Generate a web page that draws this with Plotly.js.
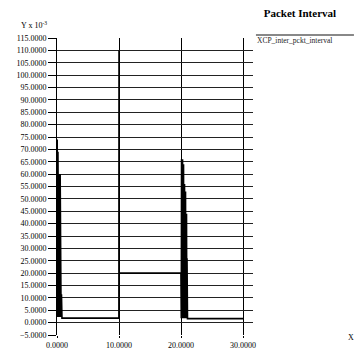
<!DOCTYPE html>
<html>
<head>
<meta charset="utf-8">
<script src="https://cdn.plot.ly/plotly-3.0.1.min.js"></script>
<style>html,body{margin:0;padding:0;background:#fff;}#chart{width:360px;height:353px;}</style>
</head>
<body>
<div id="chart"></div>
<script>
// Series name and labels
var seriesName = "XCP_inter_pckt_interval";
var chartTitle = "Packet Interval";
var yUnitLabel = "Y x 10<sup>-3</sup>";
var xUnitLabel = "X";

// Burst near x = 0 (values in 10^-3)
var burst1X = [0.00, 0.03, 0.06, 0.09, 0.12, 0.15, 0.18, 0.21, 0.24, 0.27, 0.30, 0.33, 0.36, 0.39, 0.42, 0.45, 0.48, 0.51, 0.54, 0.60, 0.66, 0.72, 0.78];
var burst1Y = [2.3, 74.0, 2.3, 69.0, 2.3, 69.0, 2.3, 69.0, 2.3, 60.0, 2.3, 60.0, 2.3, 60.0, 2.3, 60.0, 2.3, 60.0, 2.3, 11.5, 2.3, 11.5, 1.8];
// Flat section 1
var flat1X = [0.80, 3.00, 6.00, 9.98];
var flat1Y = [1.8, 1.8, 1.8, 1.8];
// Spike at x = 10 and the 20 level
var spike2X = [10.00, 10.03, 19.98];
var spike2Y = [110.0, 20.0, 20.0];
// Burst near x = 20
var burst3X = [20.00, 20.04, 20.08, 20.12, 20.16, 20.20, 20.24, 20.28, 20.32, 20.36, 20.40, 20.44, 20.48, 20.52, 20.56, 20.60, 20.64, 20.68, 20.72, 20.76, 20.80, 20.84, 20.88, 20.92, 20.96, 21.00, 21.04];
var burst3Y = [66.0, 1.8, 66.0, 1.8, 66.0, 1.8, 66.0, 1.8, 64.0, 1.8, 64.0, 1.8, 56.0, 1.8, 56.0, 1.8, 53.0, 1.8, 53.0, 1.8, 44.0, 1.8, 44.0, 1.8, 26.0, 1.8, 1.6];
// Flat section 2
var flat2X = [21.10, 24.00, 27.00, 30.00];
var flat2Y = [1.6, 1.6, 1.6, 1.6];

var xTicks = [0, 10, 20, 30];

var xs = burst1X.concat(flat1X, spike2X, burst3X, flat2X);
var ys = burst1Y.concat(flat1Y, spike2Y, burst3Y, flat2Y);

var serif = "Liberation Serif, Times New Roman, serif";

var trace = {
  x: xs, y: ys, type: "scatter", mode: "lines", name: seriesName,
  line: {color: "#000", width: 1.6}, showlegend: false, hoverinfo: "none"
};

var layout = {
  width: 360, height: 353,
  margin: {l: 57, r: 107, t: 38, b: 18, pad: 0},
  paper_bgcolor: "#fff", plot_bgcolor: "#fff",
  font: {family: serif, size: 8, color: "#000"},
  title: {text: "<b>" + chartTitle + "</b>", font: {family: serif, size: 11, color: "#000"},
          xref: "container", yref: "container", x: 0.833, y: 0.963, xanchor: "center", yanchor: "middle"},
  xaxis: {
    range: [0, 31.6], tickvals: xTicks, tickformat: ".4f",
    showgrid: true, gridcolor: "#000", gridwidth: 1, zeroline: false,
    showline: false, ticks: "outside", ticklen: 2, tickcolor: "#000",
    tickfont: {family: serif, size: 8, color: "#000"}
  },
  yaxis: {
    range: [-5, 115], dtick: 5, tick0: 0, tickformat: ".4f",
    showgrid: true, gridcolor: "#222", gridwidth: 1, zeroline: false,
    showline: true, linecolor: "#000", linewidth: 1,
    ticks: "outside", ticklen: 8, tickcolor: "#000",
    tickfont: {family: serif, size: 8, color: "#000"}
  },
  shapes: [
    {type: "line", xref: "paper", yref: "paper", x0: 1.015, x1: 1.515, y0: 1.010, y1: 1.010,
     line: {color: "#888", width: 2}}
  ],
  annotations: [
    {text: seriesName, xref: "paper", yref: "paper", x: 1.012, y: 0.990, xanchor: "left", yanchor: "middle",
     showarrow: false, font: {family: serif, size: 7.5, color: "#222"}},
    {text: yUnitLabel, xref: "paper", yref: "paper", x: -0.195, y: 1.044, xanchor: "left", yanchor: "middle",
     showarrow: false, font: {family: serif, size: 8, color: "#000"}},
    {text: xUnitLabel, xref: "paper", yref: "paper", x: 1.499, y: -0.008, xanchor: "center", yanchor: "middle",
     showarrow: false, font: {family: serif, size: 8, color: "#000"}}
  ]
};

Plotly.newPlot("chart", [trace], layout, {staticPlot: true, displayModeBar: false});
</script>
</body>
</html>
